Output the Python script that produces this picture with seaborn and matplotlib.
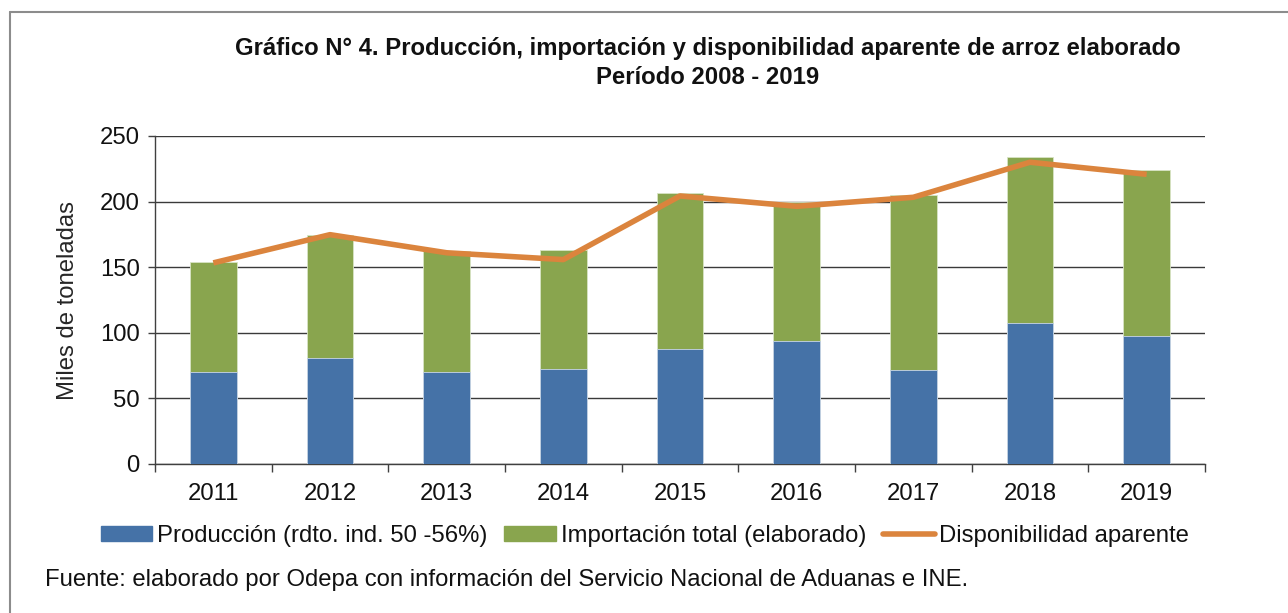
import matplotlib
matplotlib.use("Agg")
import matplotlib.pyplot as plt
import seaborn as sns
import pandas as pd
from matplotlib.patches import Patch
from matplotlib.lines import Line2D

years = ["2011", "2012", "2013", "2014", "2015", "2016", "2017", "2018", "2019"]
produccion = [70.5, 80.8, 70.5, 72.5, 87.8, 93.8, 71.5, 107.5, 97.6]
importacion = [83.3, 93.6, 91.5, 90.4, 119.1, 106.0, 133.3, 126.5, 126.3]
disponibilidad = [153.3, 174.8, 161.0, 155.8, 204.3, 196.4, 203.3, 230.0, 220.8]

total = [p + i for p, i in zip(produccion, importacion)]
df = pd.DataFrame({"year": years, "prod": produccion, "total": total, "disp": disponibilidad})

sns.set_theme(style="white")
plt.rcParams["font.family"] = ["Liberation Sans", "DejaVu Sans"]

BLUE = "#4572A7"
GREEN = "#89A54E"
ORANGE = "#DB843D"
FS = 17.2

fig = plt.figure(figsize=(12.88, 6.13), dpi=100)
ax = fig.add_axes([155 / 1288, 1 - 464 / 613, 1050 / 1288, 328 / 613])

sns.barplot(data=df, x="year", y="total", color=GREEN, width=0.4, ax=ax,
            edgecolor="#d8e4c4", linewidth=0.6, saturation=1, zorder=2)
sns.barplot(data=df, x="year", y="prod", color=BLUE, width=0.4, ax=ax,
            edgecolor="#c9d6e8", linewidth=0.6, saturation=1, zorder=3)
ax.plot(range(len(years)), df["disp"], color=ORANGE, lw=4, zorder=4,
        solid_capstyle="butt")

ax.set_ylim(0, 250)
ax.set_xlim(-0.5, len(years) - 0.5)
ax.set_yticks([0, 50, 100, 150, 200, 250])
ax.yaxis.grid(True, color="#3a3a3a", lw=1, zorder=0)
ax.set_axisbelow(True)
ax.set_xlabel("")
ax.set_ylabel("Miles de toneladas", fontsize=FS, labelpad=15)

for s in ["top", "right"]:
    ax.spines[s].set_visible(False)
for s in ["left", "bottom"]:
    ax.spines[s].set_color("#404040")
    ax.spines[s].set_linewidth(1)

ax.tick_params(axis="y", which="major", left=True, length=5, width=1,
               color="#404040", labelsize=FS, pad=6, labelcolor="#111111")
ax.set_xticks(range(len(years)))
ax.set_xticklabels(years)
ax.tick_params(axis="x", which="major", bottom=False, labelsize=FS, pad=8,
               labelcolor="#111111")
ax.set_xticks([i - 0.5 for i in range(len(years) + 1)], minor=True)
ax.tick_params(axis="x", which="minor", bottom=True, length=6, width=1,
               color="#404040")

fig.text(707.5 / 1288, 1 - 49 / 613, "Gráfico N° 4. Producción, importación y disponibilidad aparente de arroz elaborado",
         ha="center", va="center", fontsize=FS, fontweight="bold", color="#111111")
fig.text(707.5 / 1288, 1 - 77 / 613, "Período 2008 - 2019",
         ha="center", va="center", fontsize=FS, fontweight="bold", color="#111111")

handles = [Patch(facecolor=BLUE, edgecolor=BLUE),
           Patch(facecolor=GREEN, edgecolor=GREEN),
           Line2D([0], [0], color=ORANGE, lw=4, solid_capstyle="round")]
labels = ["Producción (rdto. ind. 50 -56%)", "Importación total (elaborado)",
          "Disponibilidad aparente"]
fig.legend(handles, labels, loc="center", bbox_to_anchor=(645 / 1288, 1 - 536 / 613),
           ncol=3, frameon=False, fontsize=FS, handlelength=2.15, handleheight=0.55,
           handletextpad=0.2, columnspacing=0.72, labelcolor="#111111")

fig.text(45 / 1288, 1 - 580 / 613,
         "Fuente: elaborado por Odepa con información del Servicio Nacional de Aduanas e INE.",
         ha="left", va="center", fontsize=FS, color="#111111")

# frame lines of the chart box (top and left visible)
fig.add_artist(Line2D([10 / 1288, 1.0], [1 - 12 / 613, 1 - 12 / 613],
                      transform=fig.transFigure, color="#8c8c8c", lw=1.5))
fig.add_artist(Line2D([10 / 1288, 10 / 1288], [0, 1 - 12 / 613],
                      transform=fig.transFigure, color="#8c8c8c", lw=1.5))

fig.savefig("out.png", dpi=100, facecolor="white")
